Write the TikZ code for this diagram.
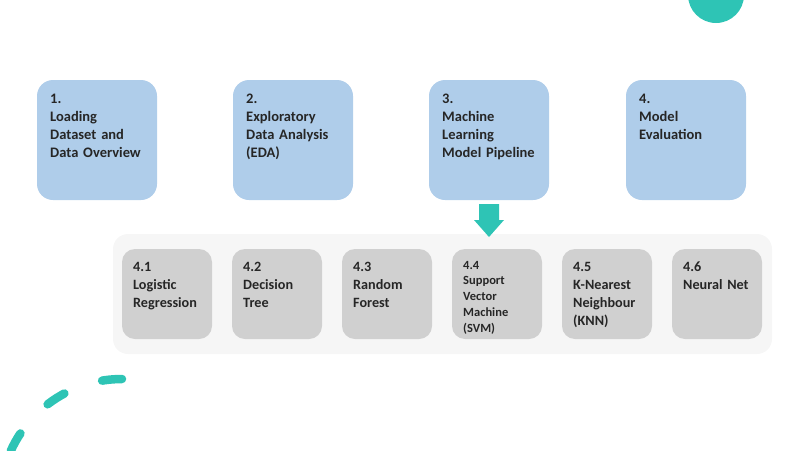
\documentclass[tikz,border=0pt]{standalone}
\usepackage{fontspec}
\setmainfont{Carlito}
\definecolor{teal1}{RGB}{46,196,181}
\definecolor{blue1}{RGB}{175,205,234}
\definecolor{gray1}{RGB}{208,208,208}
\definecolor{bg1}{RGB}{246,246,246}
\definecolor{txt}{RGB}{38,38,38}
\begin{document}
\begin{tikzpicture}[x=1pt,y=-1pt,
  stagebox/.style={draw=none,fill=blue1,rounded corners=16pt,minimum width=120pt,minimum height=120pt,inner sep=0pt},
  algbox/.style={draw=none,fill=gray1,rounded corners=13pt,minimum width=90pt,minimum height=90pt,inner sep=0pt},
  bigtxt/.style={anchor=base west,inner sep=0pt,text width=112pt,align=left,text=txt,font=\fontsize{14.5}{18}\selectfont\bfseries},
  smalltxt/.style={anchor=base west,inner sep=0pt,text width=84pt,align=left,text=txt,font=\fontsize{14.2}{18}\selectfont\bfseries},
  tinytxt/.style={anchor=base west,inner sep=0pt,text width=84pt,align=left,text=txt,font=\fontsize{12.5}{15.8}\selectfont\bfseries}]
\useasboundingbox (0,0) rectangle (800,450);
% decorations
\begin{scope}
\clip (0,0) rectangle (800,450);
\fill[teal1] (716,-5) circle (28);
\draw[teal1,line width=8.5pt,line cap=round,dash pattern=on 20pt off 40pt,dash phase=0pt]
  (122,379) arc[start angle=-90,end angle=-175,radius=122];
\end{scope}
% top stages
\node[stagebox] (b1) at (97,140) {};
\node[stagebox] (b2) at (293,140) {};
\node[stagebox] (b3) at (489,140) {};
\node[stagebox] (b4) at (686,140) {};
\node[bigtxt] (t1) at (50,103) {1.\\Loading\\Dataset and\\Data Overview};
\node[bigtxt] (t2) at (246,103) {2.\\Exploratory\\Data Analysis\\(EDA)};
\node[bigtxt] (t3) at (442,103) {3.\\Machine\\Learning\\Model Pipeline};
\node[bigtxt] (t4) at (639,103) {4.\\Model\\Evaluation};
% container
\node[draw=none,fill=bg1,rounded corners=15pt,minimum width=659pt,minimum height=120pt,inner sep=0pt] (cont) at (442.5,294) {};
% algorithm boxes
\node[algbox] (a1) at (167,294) {};
\node[algbox] (a2) at (277,294) {};
\node[algbox] (a3) at (387,294) {};
\node[algbox] (a4) at (497,294) {};
\node[algbox] (a5) at (607,294) {};
\node[algbox] (a6) at (717,294) {};
\node[smalltxt] (s1) at (133,271) {4.1\\Logistic\\Regression};
\node[smalltxt] (s2) at (243,271) {4.2\\Decision\\Tree};
\node[smalltxt] (s3) at (353,271) {4.3\\Random\\Forest};
\node[tinytxt] (s4) at (463,269) {4.4\\Support\\Vector\\Machine\\(SVM)};
\node[smalltxt] (s5) at (573,271) {4.5\\K-Nearest\\Neighbour\\(KNN)};
\node[smalltxt] (s6) at (683,271) {4.6\\Neural Net};
% arrow from stage 3 to the algorithm panel
\coordinate (ar) at (489,204);
\fill[teal1] (ar) ++(-10,0) -- ++(0,16) -- ++(-5,0) -- ++(15,17) -- ++(15,-17) -- ++(-5,0) -- ++(0,-16) -- cycle;
\end{tikzpicture}
\end{document}
